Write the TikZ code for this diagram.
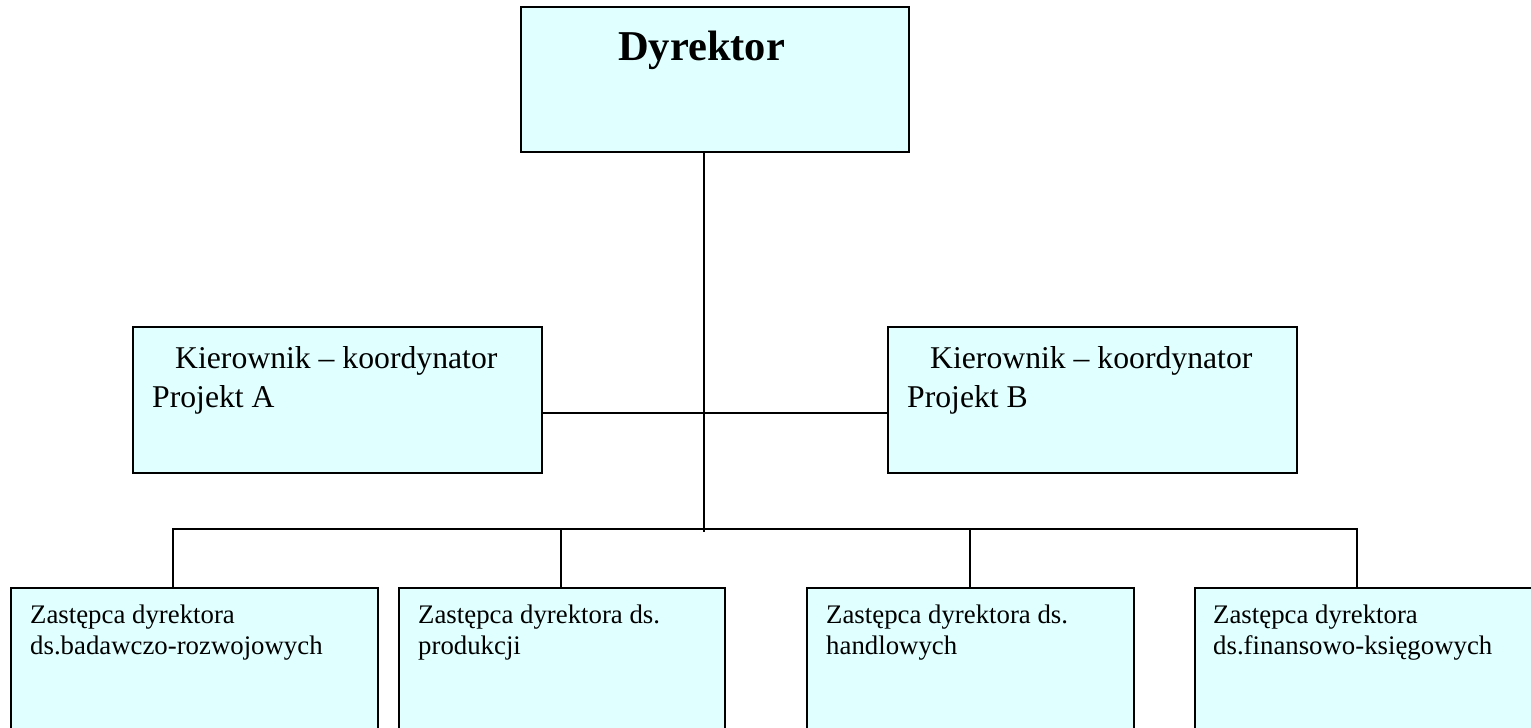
\documentclass[tikz,border=0pt]{standalone}
\usepackage{fontspec}
\setmainfont{Liberation Serif}
\definecolor{boxfill}{RGB}{224,255,255}
\begin{document}
\begin{tikzpicture}[x=1pt,y=-1pt,
  orgbox/.style={draw=black, fill=boxfill, line width=2pt, rectangle, inner sep=0pt, anchor=north west},
  link/.style={line width=2pt, draw=black},
  lbsmall/.style={anchor=base west, inner sep=0pt, font=\fontsize{26.8}{30.5}\selectfont},
  lbmid/.style={anchor=base west, inner sep=0pt, font=\fontsize{31.7}{37}\selectfont},
  lbbig/.style={anchor=base west, inner sep=0pt, font=\fontsize{42.5}{48}\selectfont\bfseries}]
\useasboundingbox (0,0) rectangle (1531,728);
\clip (0,0) rectangle (1531,728);

% top level
\node[orgbox, minimum width=388pt, minimum height=145pt] (dyr) at (520,6) {};
\node[lbbig] (dyrt) at (618,60) {Dyrektor};

% project managers
\node[orgbox, minimum width=409pt, minimum height=146pt] (ka) at (132,326) {};
\node[orgbox, minimum width=409pt, minimum height=146pt] (kb) at (887,326) {};
\node[lbmid] (ka1) at (175,368) {Kierownik – koordynator};
\node[lbmid] (ka2) at (152,407) {Projekt A};
\node[lbmid] (kb1) at (930,368) {Kierownik – koordynator};
\node[lbmid] (kb2) at (907,407) {Projekt B};

% deputies
\node[orgbox, minimum width=367pt, minimum height=160pt] (z1) at (10,587) {};
\node[orgbox, minimum width=326pt, minimum height=160pt] (z2) at (398,587) {};
\node[orgbox, minimum width=327pt, minimum height=160pt] (z3) at (806,587) {};
\node[orgbox, minimum width=360pt, minimum height=160pt] (z4) at (1194,587) {};
\node[lbsmall] (z1a) at (30,623) {Zastępca dyrektora};
\node[lbsmall] (z1b) at (30,654) {ds.badawczo-rozwojowych};
\node[lbsmall] (z2a) at (418,623) {Zastępca dyrektora ds.};
\node[lbsmall] (z2b) at (418,654) {produkcji};
\node[lbsmall] (z3a) at (826,623) {Zastępca dyrektora ds.};
\node[lbsmall] (z3b) at (826,654) {handlowych};
\node[lbsmall] (z4a) at (1213,623) {Zastępca dyrektora};
\node[lbsmall] (z4b) at (1213,654) {ds.finansowo-księgowych};

% connector points
\coordinate (stemend) at (704,532);
\coordinate (midbar) at (704,413);
\coordinate (bus1) at (173,529);
\coordinate (bus2) at (561,529);
\coordinate (bus3) at (970,529);
\coordinate (bus4) at (1357,529);

% connectors
\draw[link] (dyr.south -| stemend) -- (stemend);
\draw[link] (midbar -| ka.east) -- (midbar -| kb.west);
\draw[link] (z1.north -| bus1) -- (bus1) -- (bus4) -- (z4.north -| bus4);
\draw[link] (bus2) -- (z2.north -| bus2);
\draw[link] (bus3) -- (z3.north -| bus3);
\end{tikzpicture}
\end{document}
